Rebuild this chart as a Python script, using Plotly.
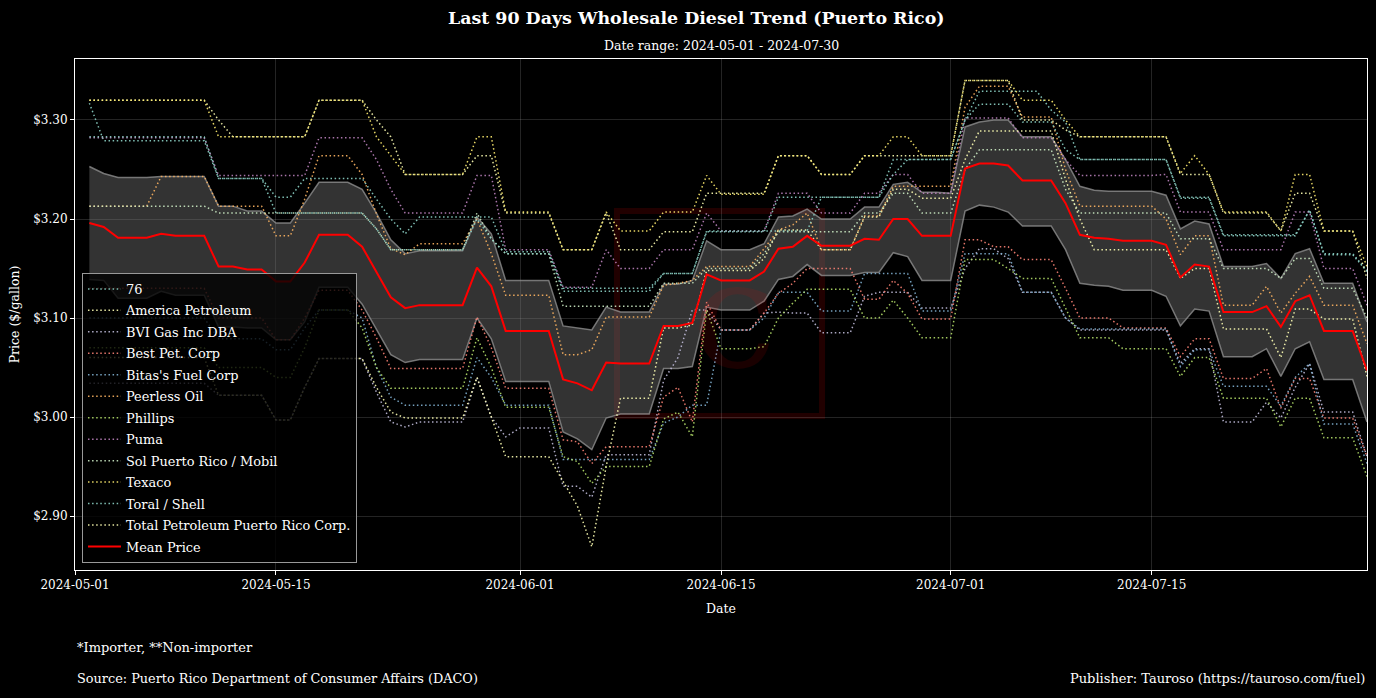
import pandas as pd
import plotly.graph_objects as go

dates = pd.date_range("2024-05-02", periods=90, freq="D")

companies = ["76", "America Petroleum", "BVI Gas Inc DBA", "Best Pet. Corp", "Bitas's Fuel Corp",
             "Peerless Oil", "Phillips", "Puma", "Sol Puerto Rico / Mobil", "Texaco",
             "Toral / Shell", "Total Petroleum Puerto Rico Corp."]

p_76 = [3.317] + [3.279]*8 + [3.241] + \
       [3.241]*3 + [3.222]*2 + [3.241]*5 + \
       [3.220, 3.200, 3.185] + [3.202]*6 + [3.167] + \
       [3.167]*3 + [3.130]*7 + \
       [3.145]*3 + [3.187]*5 + [3.222]*2 + \
       [3.222]*6 + [3.260]*4 + \
       [3.260, 3.300] + [3.329]*5 + [3.310, 3.298, 3.260] + \
       [3.260]*6 + [3.222]*3 + [3.184] + \
       [3.184]*5 + [3.209] + [3.165]*3 + [3.148]

p_america = [3.320]*9 + [3.300] + \
            [3.283]*6 + [3.320]*4 + \
            [3.300, 3.283] + [3.245]*5 + [3.264, 3.264, 3.206] + \
            [3.206]*3 + [3.169]*3 + [3.206] + [3.169]*3 + \
            [3.187]*3 + [3.226]*5 + [3.264]*2 + \
            [3.264] + [3.245]*3 + [3.264]*4 + [3.264]*2 + \
            [3.264] + [3.340]*4 + [3.300]*3 + [3.290, 3.283] + \
            [3.283]*6 + [3.245, 3.245, 3.245, 3.206] + \
            [3.206]*3 + [3.188] + [3.226]*2 + [3.188]*3 + [3.140]

p_bvi = [3.034]*9 + [3.022] + \
        [3.022]*3 + [2.997]*2 + [3.030] + [3.059]*4 + \
        [3.025, 2.995, 2.990] + [2.995]*4 + [3.040, 3.000, 2.980] + \
        [2.989]*3 + [2.930]*2 + [2.919] + [2.962]*4 + \
        [3.037, 3.060, 3.108, 3.108] + [3.088]*3 + [3.105, 3.106, 3.105] + \
        [3.105] + [3.085]*3 + [3.122] + [3.126]*3 + [3.110]*2 + \
        [3.110, 3.150, 3.170, 3.170, 3.160] + [3.126]*3 + [3.100, 3.088] + \
        [3.088]*6 + [3.054, 3.069, 3.069, 2.995] + \
        [2.995]*2 + [3.015, 2.999, 3.030, 3.054] + [3.005]*3 + [2.960]

p_best = [3.130]*9 + [3.100] + \
         [3.100]*3 + [3.078]*2 + [3.100] + [3.128]*3 + [3.108] + \
         [3.080] + [3.049]*6 + [3.101, 3.070, 3.029] + \
         [3.029]*3 + [2.977, 2.975, 2.953] + [2.970]*4 + \
         [3.020, 3.030, 2.995, 3.116] + [3.088]*3 + [3.105, 3.125, 3.135] + \
         [3.150]*4 + [3.119, 3.119, 3.138, 3.125] + [3.099]*2 + \
         [3.099, 3.179, 3.179, 3.172, 3.172] + [3.159]*3 + [3.130, 3.100] + \
         [3.100]*2 + [3.090]*4 + [3.061, 3.079, 3.079, 3.039] + \
         [3.039]*2 + [3.049, 3.009, 3.039, 3.039] + [2.999]*3 + [2.960]

p_bitas = [3.100]*9 + [3.079] + \
          [3.079]*3 + [3.068]*2 + [3.090] + [3.108]*3 + [3.100] + \
          [3.050, 3.020] + [3.012]*5 + [3.060, 3.040, 3.012] + \
          [3.012]*3 + [2.957]*7 + \
          [2.994, 3.000, 3.012, 3.012] + [3.088]*3 + [3.100] + [3.126]*2 + \
          [3.126] + [3.107]*3 + [3.145]*4 + [3.107]*2 + \
          [3.107] + [3.165]*4 + [3.126]*3 + [3.100, 3.089] + \
          [3.089]*6 + [3.051, 3.068, 3.068, 3.031] + \
          [3.031]*3 + [3.011, 3.040, 3.054] + [2.993]*3 + [2.953]

p_peerless = [3.213]*5 + [3.243]*4 + [3.213] + \
             [3.213]*3 + [3.183]*2 + [3.220] + [3.264]*3 + [3.245] + \
             [3.205, 3.170, 3.164] + [3.175]*4 + [3.200, 3.165, 3.123] + \
             [3.123]*3 + [3.063]*2 + [3.068] + [3.101]*4 + \
             [3.133, 3.135, 3.138] + [3.152]*4 + [3.170, 3.189, 3.194] + \
             [3.206] + [3.169]*3 + [3.203, 3.203] + [3.233]*4 + \
             [3.233, 3.313] + [3.334]*3 + [3.303]*3 + [3.250, 3.213] + \
             [3.213]*5 + [3.200, 3.164, 3.183, 3.183, 3.113] + \
             [3.113]*2 + [3.132, 3.105, 3.125, 3.142] + [3.113]*3 + [3.074]

p_phillips = [3.070]*9 + [3.050] + \
              [3.050]*3 + [3.040]*2 + [3.070] + [3.108]*3 + [3.090] + \
              [3.050] + [3.029]*6 + [3.080, 3.050, 3.010] + \
              [3.010]*3 + [2.960, 2.955, 2.933] + [2.950]*4 + \
              [2.998, 3.005, 2.980, 3.108] + [3.069]*3 + [3.071, 3.100, 3.115] + \
              [3.129]*4 + [3.100]*2 + [3.118, 3.100] + [3.080]*2 + \
              [3.080] + [3.159]*3 + [3.150] + [3.140]*3 + [3.110, 3.080] + \
              [3.080]*2 + [3.069]*4 + [3.041, 3.060, 3.060, 3.019] + \
              [3.019]*2 + [3.019, 2.990, 3.019, 3.019] + [2.979]*3 + [2.940]

p_puma = [3.282]*9 + [3.244] + \
         [3.244]*6 + [3.282]*4 + \
         [3.260, 3.230] + [3.206]*5 + [3.244]*2 + [3.169] + \
         [3.169]*3 + [3.131]*3 + [3.169] + [3.150]*3 + \
         [3.169]*3 + [3.206] + [3.188]*4 + [3.226]*2 + \
         [3.226] + [3.206]*3 + [3.226]*2 + [3.245]*2 + [3.226]*2 + \
         [3.226] + [3.302]*4 + [3.282]*3 + [3.260, 3.244] + \
         [3.244]*5 + [3.245, 3.207, 3.207, 3.207, 3.169] + \
         [3.169]*4 + [3.207]*2 + [3.150]*3 + [3.113]

p_sol = [3.213]*9 + [3.206] + \
        [3.206]*10 + \
        [3.190] + [3.169]*6 + [3.206, 3.180, 3.165] + \
        [3.165]*3 + [3.112]*7 + \
        [3.135]*3 + [3.150]*4 + [3.165] + [3.187]*2 + \
        [3.187]*4 + [3.206]*2 + [3.226]*2 + [3.206]*2 + \
        [3.206, 3.250] + [3.270]*6 + [3.230, 3.206] + \
        [3.206]*6 + [3.180]*3 + [3.150] + \
        [3.150]*3 + [3.140] + [3.160]*2 + [3.130]*3 + [3.100]

p_texaco = [3.320]*9 + [3.283] + \
           [3.283]*6 + [3.320]*4 + \
           [3.283, 3.264] + [3.245]*5 + [3.283, 3.283, 3.207] + \
           [3.207]*3 + [3.169]*3 + [3.207] + [3.188]*3 + \
           [3.207]*3 + [3.244] + [3.225]*4 + [3.264]*2 + \
           [3.264] + [3.245]*3 + [3.264]*2 + [3.283]*2 + [3.264]*2 + \
           [3.264] + [3.340]*4 + [3.320]*3 + [3.300, 3.283] + \
           [3.283]*6 + [3.246, 3.264, 3.245, 3.207] + \
           [3.207]*3 + [3.188] + [3.245]*2 + [3.188]*3 + [3.152]

p_toral = [3.283]*9 + [3.241] + \
          [3.241]*3 + [3.206]*7 + \
          [3.190] + [3.169]*6 + [3.200, 3.180, 3.165] + \
          [3.165]*3 + [3.127]*7 + \
          [3.145]*3 + [3.188]*7 + \
          [3.188] + [3.222]*5 + [3.245] + [3.260]*3 + \
          [3.260, 3.300] + [3.316]*3 + [3.298]*3 + [3.270, 3.260] + \
          [3.260]*6 + [3.221]*3 + [3.183] + \
          [3.183]*5 + [3.209] + [3.164]*3 + [3.147]

p_total = [3.060]*9 + [3.022] + \
          [3.022]*3 + [2.997]*2 + [3.030] + [3.059]*4 + \
          [3.030, 3.005] + [2.999]*5 + [3.040, 3.000, 2.960] + \
          [2.960]*3 + [2.935, 2.910, 2.869, 2.950] + [3.019]*3 + \
          [3.090]*2 + [3.093] + [3.148]*4 + [3.160, 3.189, 3.189] + \
          [3.189] + [3.169]*3 + [3.202]*2 + [3.230]*2 + [3.221]*2 + \
          [3.221, 3.260] + [3.289]*6 + [3.240, 3.200] + \
          [3.169]*6 + [3.140, 3.150, 3.150, 3.089] + \
          [3.089]*3 + [3.060] + [3.109]*2 + [3.099]*3 + [3.041]

series = [p_76, p_america, p_bvi, p_best, p_bitas, p_peerless, p_phillips,
          p_puma, p_sol, p_texaco, p_toral, p_total]

mean_price = [3.196, 3.192, 3.181, 3.181, 3.181, 3.185, 3.183, 3.183, 3.183, 3.152,
              3.152, 3.149, 3.149, 3.137, 3.137, 3.156, 3.184, 3.184, 3.184, 3.172,
              3.147, 3.121, 3.110, 3.113, 3.113, 3.113, 3.113, 3.151, 3.132, 3.087,
              3.087, 3.087, 3.087, 3.038, 3.034, 3.027, 3.055, 3.054, 3.054, 3.054,
              3.092, 3.092, 3.095, 3.144, 3.138, 3.138, 3.138, 3.147, 3.170, 3.172,
              3.183, 3.173, 3.173, 3.173, 3.180, 3.179, 3.200, 3.200, 3.183, 3.183,
              3.183, 3.251, 3.256, 3.256, 3.254, 3.239, 3.239, 3.239, 3.216, 3.184,
              3.181, 3.180, 3.178, 3.178, 3.178, 3.174, 3.141, 3.154, 3.152, 3.106,
              3.106, 3.106, 3.112, 3.091, 3.117, 3.123, 3.087, 3.087, 3.087, 3.047]

band_upper = [3.253, 3.246, 3.242, 3.242, 3.242, 3.243, 3.243, 3.243, 3.243, 3.213,
              3.213, 3.208, 3.208, 3.196, 3.196, 3.216, 3.237, 3.237, 3.237, 3.230,
              3.206, 3.179, 3.165, 3.168, 3.168, 3.168, 3.168, 3.202, 3.185, 3.138,
              3.138, 3.138, 3.138, 3.092, 3.090, 3.088, 3.111, 3.106, 3.106, 3.106,
              3.134, 3.134, 3.138, 3.178, 3.169, 3.169, 3.169, 3.175, 3.202, 3.203,
              3.210, 3.200, 3.200, 3.200, 3.212, 3.212, 3.235, 3.237, 3.227, 3.227,
              3.226, 3.293, 3.298, 3.300, 3.300, 3.283, 3.283, 3.283, 3.260, 3.233,
              3.229, 3.228, 3.228, 3.228, 3.228, 3.224, 3.190, 3.198, 3.195, 3.152,
              3.152, 3.152, 3.155, 3.140, 3.165, 3.170, 3.135, 3.135, 3.135, 3.096]

band_lower = [3.139, 3.138, 3.120, 3.120, 3.120, 3.127, 3.123, 3.123, 3.123, 3.091,
              3.091, 3.090, 3.090, 3.078, 3.078, 3.096, 3.131, 3.131, 3.131, 3.114,
              3.088, 3.063, 3.055, 3.058, 3.058, 3.058, 3.058, 3.100, 3.079, 3.036,
              3.036, 3.036, 3.036, 2.985, 2.978, 2.967, 2.999, 3.003, 3.003, 3.003,
              3.049, 3.049, 3.051, 3.111, 3.108, 3.108, 3.108, 3.117, 3.139, 3.142,
              3.154, 3.143, 3.143, 3.143, 3.146, 3.146, 3.166, 3.162, 3.138, 3.138,
              3.138, 3.208, 3.214, 3.212, 3.207, 3.193, 3.193, 3.193, 3.169, 3.135,
              3.133, 3.132, 3.128, 3.128, 3.128, 3.122, 3.092, 3.109, 3.107, 3.061,
              3.061, 3.061, 3.069, 3.041, 3.069, 3.076, 3.038, 3.038, 3.038, 2.995]

colors = ["#8dd3c7", "#feffb3", "#bfbbd9", "#fa8174", "#81b1d2", "#fdb462",
          "#b3de69", "#bc82bd", "#ccebc4", "#ffed6f", "#8dd3c7", "#feffb3"]

y_ticks = [2.90, 3.00, 3.10, 3.20, 3.30]
y_labels = ["$2.90", "$3.00", "$3.10", "$3.20", "$3.30"]
x_ticks = ["2024-05-01", "2024-05-15", "2024-06-01", "2024-06-15", "2024-07-01", "2024-07-15"]

FONT = "DejaVu Serif"

fig = go.Figure()

fig.add_trace(go.Scatter(x=dates, y=band_upper, mode="lines",
                         line=dict(color="rgba(150,150,150,0.75)", width=1.5),
                         showlegend=False, hoverinfo="skip"))
fig.add_trace(go.Scatter(x=dates, y=band_lower, mode="lines", fill="tonexty",
                         fillcolor="rgba(128,128,128,0.4)",
                         line=dict(color="rgba(150,150,150,0.75)", width=1.5),
                         showlegend=False, hoverinfo="skip"))

for i, (name, vals) in enumerate(zip(companies, series)):
    fig.add_trace(go.Scatter(x=dates, y=vals, mode="lines", name=name,
                             legendgroup="g%d" % i,
                             line=dict(color=colors[i], width=1.5, dash="1.5px,2.6px"),
                             opacity=0.9))

fig.add_trace(go.Scatter(x=dates, y=mean_price, mode="lines", name="Mean Price",
                         legendgroup="gm", line=dict(color="#ff0000", width=2)))

# faint watermark
fig.add_shape(type="rect", xref="paper", yref="paper",
              x0=0.4195, x1=0.5782, y0=0.3014, y1=0.7025,
              line=dict(color="rgba(255,0,0,0.13)", width=6), layer="below")
fig.add_annotation(xref="paper", yref="paper", x=0.51, y=0.50, text="c",
                   showarrow=False, font=dict(family=FONT, size=150, color="rgba(255,0,0,0.10)"))

fig.update_layout(
    width=1376, height=698,
    paper_bgcolor="#000000", plot_bgcolor="#000000",
    margin=dict(l=75, r=9, t=59, b=128),
    font=dict(family=FONT, color="#ffffff", size=12),
    title=dict(text="<b>Last 90 Days Wholesale Diesel Trend (Puerto Rico)</b>",
               x=0.506, xanchor="center", y=0.975, yanchor="middle",
               font=dict(family=FONT, size=17.4, color="#ffffff")),
    legend=dict(x=0.0054, y=0.0137, xanchor="left", yanchor="bottom",
                bgcolor="rgba(0,0,0,0.8)", bordercolor="#999999", borderwidth=1,
                font=dict(family=FONT, size=12.9, color="#ffffff"),
                tracegroupgap=1.7, itemwidth=33),
    xaxis=dict(range=["2024-05-01", "2024-07-30"], tickvals=x_ticks, ticktext=x_ticks,
               showgrid=True, gridcolor="rgba(255,255,255,0.14)", gridwidth=1,
               showline=True, linecolor="#ffffff", linewidth=1, mirror=True,
               ticks="outside", tickcolor="#ffffff", ticklen=4,
               tickfont=dict(family=FONT, size=12), zeroline=False,
               title=dict(text="Date", font=dict(family=FONT, size=12.5), standoff=12)),
    yaxis=dict(range=[2.8455, 3.3616], tickvals=y_ticks, ticktext=y_labels,
               showgrid=True, gridcolor="rgba(255,255,255,0.14)", gridwidth=1,
               showline=True, linecolor="#ffffff", linewidth=1, mirror=True,
               ticks="outside", tickcolor="#ffffff", ticklen=4,
               tickfont=dict(family=FONT, size=12), zeroline=False,
               title=dict(text="Price ($/gallon)", font=dict(family=FONT, size=12.5), standoff=10)),
)

fig.add_annotation(xref="paper", yref="paper", x=0.5, y=1.0, yshift=14,
                   text="Date range: 2024-05-01 - 2024-07-30", showarrow=False,
                   xanchor="center", yanchor="middle", font=dict(family=FONT, size=12.5))
fig.add_annotation(xref="paper", yref="paper", x=0, y=-0.152, yanchor="middle", xanchor="left",
                   text="*Importer, **Non-importer", showarrow=False,
                   font=dict(family=FONT, size=13))
fig.add_annotation(xref="paper", yref="paper", x=0, y=-0.213, yanchor="middle", xanchor="left",
                   text="Source: Puerto Rico Department of Consumer Affairs (DACO)", showarrow=False,
                   font=dict(family=FONT, size=12.85))
fig.add_annotation(xref="paper", yref="paper", x=1, y=-0.213, yanchor="middle", xanchor="right",
                   text="Publisher: Tauroso (https://tauroso.com/fuel)", showarrow=False,
                   font=dict(family=FONT, size=13))

fig.write_html("out.html", config={"displayModeBar": False},
               post_script="document.body.style.margin='0';document.body.style.background='#000';")
